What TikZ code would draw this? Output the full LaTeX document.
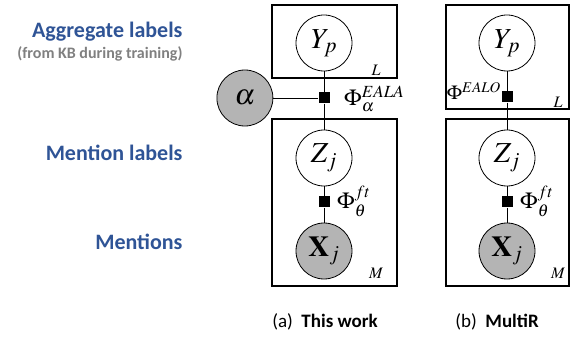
\documentclass[tikz,border=0pt]{standalone}
\usepackage{mathptmx}
\usepackage[no-math]{fontspec}
\setmainfont{Carlito}
\usetikzlibrary{positioning}

\definecolor{lblue}{RGB}{47,84,150}
\definecolor{lgray}{RGB}{128,128,128}
\definecolor{obs}{RGB}{180,180,180}

\begin{document}
\begin{tikzpicture}[x=1pt,y=-1pt,
	var/.style={circle,draw,thick,minimum size=56pt,inner sep=0pt,fill=white,font=\fontsize{29}{32}\selectfont},
	obsvar/.style={var,fill=obs},
	fac/.style={rectangle,fill=black,minimum size=11pt,inner sep=0pt},
	plate/.style={draw,line width=1.2pt},
	side/.style={anchor=east,text=lblue,font=\bfseries\fontsize{22}{24}\selectfont},
	phi/.style={font=\fontsize{23}{26}\selectfont,inner sep=0pt},
	corner/.style={font=\fontsize{16}{17}\selectfont,inner sep=0pt},
	caption/.style={font=\fontsize{19}{22}\selectfont}]

\useasboundingbox (0,0) rectangle (573,339);

% row labels
\node[side] (agg) at (186,32) {Aggregate labels};
\node[anchor=east,text=lgray,font=\bfseries\fontsize{16}{18}\selectfont] (kb) at (186,54) {(from KB during training)};
\node[side] (men) at (186,153) {Mention labels};
\node[side] (ments) at (186,242) {Mentions};

% (a) this work
\draw[plate] (272,5) rectangle (397,78);
\draw[plate] (272,119) rectangle (397,286);

\node[var] (yp) at (324,43) {$Y_p$};
\node[fac] (fa) at (324,98) {};
\node[obsvar] (alpha) [left=45pt of fa] {$\alpha$};
\node[var] (zj) at (324,158) {$Z_j$};
\node[fac] (ft) at (324,202) {};
\node[obsvar] (xj) at (324,251) {$\mathbf{X}_j$};

\node[phi,anchor=west] (pa) at (344,99) {$\Phi_\alpha^{EALA}$};
\node[phi,anchor=west] (pt) at (337,201) {$\Phi_\theta^{ft}$};
\node[corner] (la) at (376,70) {$L$};
\node[corner] (ma) at (376,273) {$M$};

\path[thick]
	(yp) edge (fa)
	(fa) edge (zj)
	(alpha) edge (fa)
	(zj) edge (ft)
	(ft) edge (xj)
;

\node[caption] (capa) at (325,322) {(a)\ \ \textbf{This work}};

% (b) MultiR
\draw[plate] (446,5) rectangle (569,109);
\draw[plate] (446,119) rectangle (569,286);

\node[var] (yp2) at (507,43) {$Y_p$};
\node[fac] (fb) at (507,97) {};
\node[var] (zj2) at (507,158) {$Z_j$};
\node[fac] (ft2) at (507,202) {};
\node[obsvar] (xj2) at (507,251) {$\mathbf{X}_j$};

\node[phi,anchor=east,font=\fontsize{20}{24}\selectfont] (pb) at (501,91) {$\Phi^{EALO}$};
\node[phi,anchor=west] (pt2) at (520,201) {$\Phi_\theta^{ft}$};
\node[corner] (lb) at (558,102) {$L$};
\node[corner] (mb) at (558,273) {$M$};

\path[thick]
	(yp2) edge (fb)
	(fb) edge (zj2)
	(zj2) edge (ft2)
	(ft2) edge (xj2)
;

\node[caption] (capb) at (497,322) {(b)\ \ \textbf{MultiR}};

\end{tikzpicture}
\end{document}
